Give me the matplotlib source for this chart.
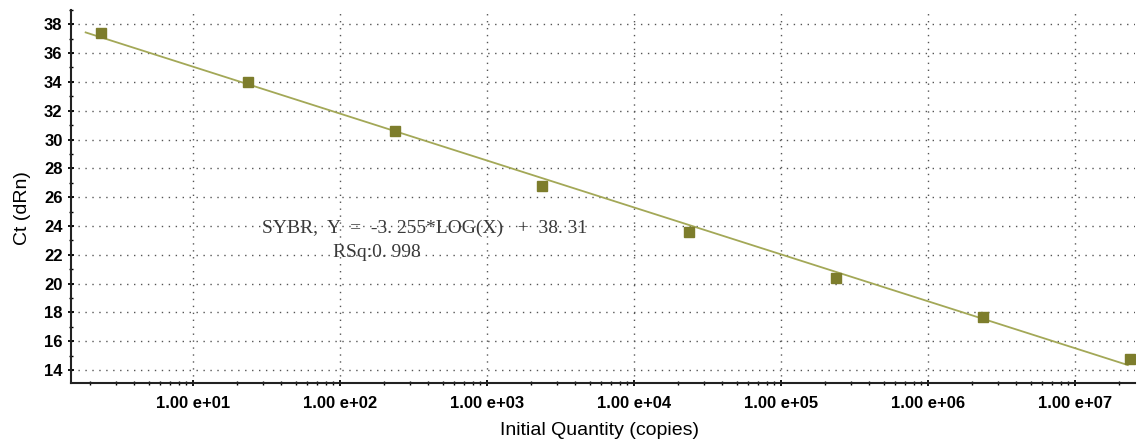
import matplotlib
matplotlib.use("Agg")
import matplotlib.pyplot as plt
import numpy as np
from matplotlib.ticker import FixedLocator, FuncFormatter, LogLocator, MultipleLocator

# standard curve points (copies, Ct)
quantity = [2.36e0, 2.36e1, 2.36e2, 2.36e3, 2.36e4, 2.36e5, 2.36e6, 2.36e7]
ct = [37.4, 34.0, 30.6, 26.8, 23.6, 20.4, 17.7, 14.8]
x_ticks = [1e1, 1e2, 1e3, 1e4, 1e5, 1e6, 1e7]
y_ticks = [14, 16, 18, 20, 22, 24, 26, 28, 30, 32, 34, 36, 38]

slope = -3.255
intercept = 38.31
rsq = 0.998
fit_range = [10**0.27, 10**7.36]

plt.rcParams['font.family'] = ['Liberation Sans', 'DejaVu Sans']

fig = plt.figure(figsize=(11.37, 4.46), dpi=100)
ax = fig.add_axes([0.0624, 0.141, 0.936, 0.837])

xf = np.logspace(np.log10(fit_range[0]), np.log10(fit_range[1]), 50)
ax.plot(xf, slope * np.log10(xf) + intercept, color='#a3a857', lw=1.3, zorder=2)
ax.plot(quantity, ct, 's', color='#7d7d2c', ms=6.5, zorder=3)

ax.set_xscale('log')
ax.set_xlim(10**0.17, 10**7.41)
ax.set_ylim(13.1, 39.0)

ax.yaxis.set_major_locator(FixedLocator(y_ticks))
ax.yaxis.set_minor_locator(MultipleLocator(1))
ax.xaxis.set_major_locator(FixedLocator(x_ticks))
ax.xaxis.set_minor_locator(LogLocator(base=10, subs=np.arange(2, 10), numticks=20))
ax.xaxis.set_major_formatter(FuncFormatter(lambda v, p: "1.00 e+%02d" % round(np.log10(v))))

ax.grid(True, which='major', linestyle=(0, (1, 4)), color='#555555', lw=1.0)
for s in ['top', 'right']:
    ax.spines[s].set_visible(False)
for s in ['left', 'bottom']:
    ax.spines[s].set_linewidth(1.5)
    ax.spines[s].set_color('#222222')

ax.tick_params(axis='both', which='major', length=5, width=1.3, direction='inout', labelsize=12)
ax.tick_params(axis='both', which='minor', length=3, width=1.0, direction='inout')
ax.tick_params(axis='x', pad=7)
for lab in ax.get_xticklabels() + ax.get_yticklabels():
    lab.set_fontweight('bold')

ax.set_xlabel("Initial Quantity (copies)", fontsize=14)
ax.set_ylabel("Ct (dRn)", fontsize=14)
ax.xaxis.set_label_coords(0.497, -0.105)
ax.yaxis.set_label_coords(-0.038, 0.469)

serif = ['Liberation Serif', 'DejaVu Serif']
ax.text(10**1.47, 23.85, "SYBR,  Y  =  -3. 255*LOG(X)   +  38. 31", fontsize=14,
        family=serif, color='#3a3a3a', va='center')
ax.text(10**1.95, 22.15, "RSq:0. 998", fontsize=14,
        family=serif, color='#3a3a3a', va='center')

fig.savefig("out.png", dpi=100)
